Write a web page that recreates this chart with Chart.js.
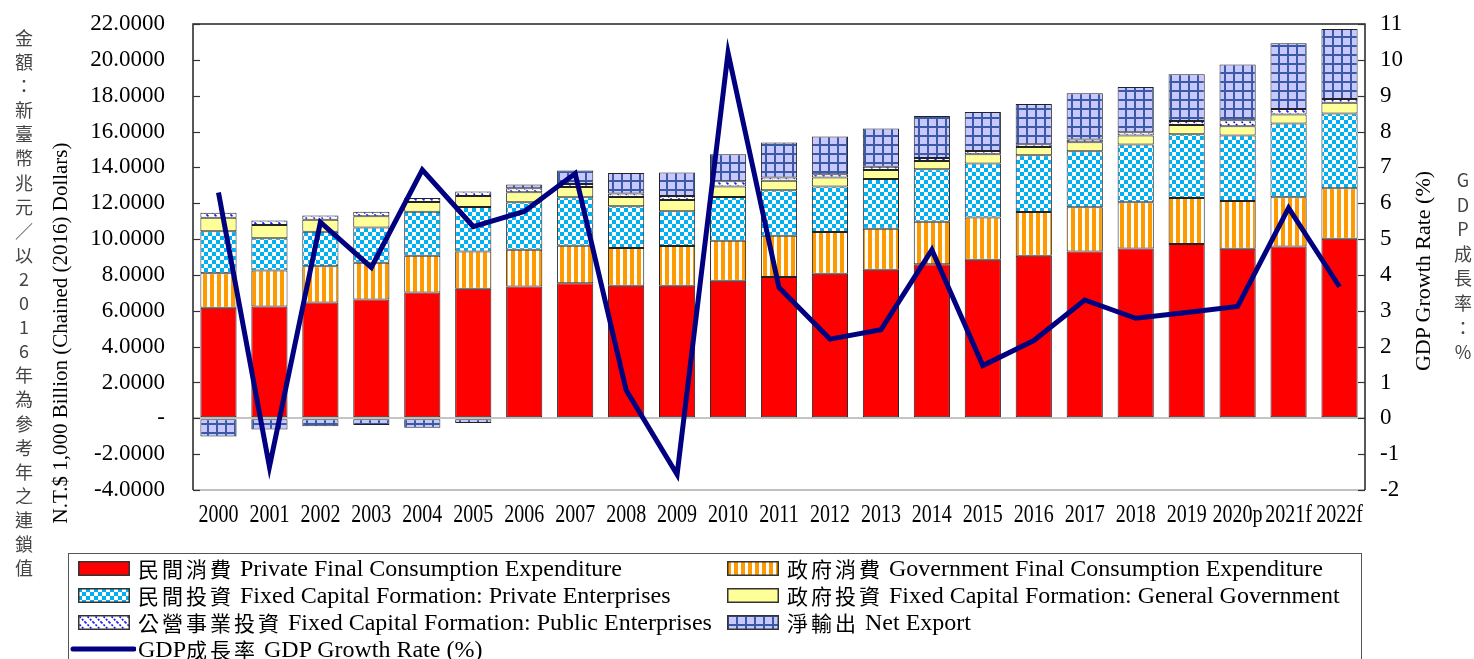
<!DOCTYPE html>
<html><head><meta charset="utf-8">
<script src="https://cdn.jsdelivr.net/npm/chart.js@4.4.1/dist/chart.umd.min.js"></script>
<style>
body{margin:0;background:#fff;}
#wrap{position:relative;width:1474px;height:659px;overflow:hidden;background:#fff;}
canvas#c{position:absolute;left:0;top:0;}
.vt{position:absolute;font-family:'Noto Sans CJK TC','Liberation Serif',serif;color:#444;font-size:18px;text-align:center;width:30px;}
.vt span{display:block;height:24.1px;line-height:24.1px;}
.rot{position:absolute;font-family:'Liberation Serif',serif;color:#000;white-space:nowrap;transform:translate(-50%,-50%) rotate(-90deg);}
#legend{position:absolute;left:68px;top:553px;width:1294px;height:120px;border:1px solid #555;box-sizing:border-box;font-family:'Liberation Serif','Noto Sans CJK TC',serif;font-size:24px;color:#000;}
.li{position:absolute;height:26px;line-height:26px;white-space:nowrap;display:flex;align-items:center;}
.li canvas{margin-right:8px;display:block;}
.cjk{letter-spacing:3px;font-size:21px;font-family:'Noto Sans CJK TC',serif;}
.en{font-size:24px;font-family:'Liberation Serif',serif;white-space:pre;}
</style></head>
<body>
<div id="wrap">
<canvas id="c" width="1474" height="659"></canvas>
<div class="vt" id="leftCJK" style="left:9px;top:25px;"></div>
<div class="vt" id="rightCJK" style="left:1448px;top:167px;"></div>
<div class="rot" id="leftTitle" style="left:60px;top:333px;font-size:21px;"></div>
<div class="rot" id="rightTitle" style="left:1423px;top:271px;font-size:22px;"></div>
<div id="legend"></div>
</div>
<script>
// ---- data ----
const years = ['2000','2001','2002','2003','2004','2005','2006','2007','2008','2009','2010','2011','2012','2013','2014','2015','2016','2017','2018','2019','2020p','2021f','2022f'];
const privateConsumption = [6.17,6.24,6.46,6.63,7.02,7.23,7.36,7.53,7.40,7.40,7.68,7.88,8.07,8.29,8.59,8.85,9.07,9.30,9.48,9.72,9.46,9.59,10.02];
const govConsumption = [1.93,2.01,2.03,2.05,2.05,2.07,2.05,2.10,2.10,2.21,2.23,2.31,2.32,2.29,2.38,2.35,2.44,2.47,2.57,2.57,2.66,2.74,2.81];
const privateInvestment = [2.33,1.79,1.92,1.97,2.46,2.49,2.64,2.70,2.33,1.94,2.44,2.53,2.54,2.77,2.92,3.01,3.17,3.13,3.22,3.56,3.66,4.12,4.18];
const govInvestment = [0.76,0.74,0.67,0.62,0.54,0.61,0.56,0.58,0.52,0.63,0.59,0.54,0.50,0.50,0.47,0.52,0.46,0.50,0.51,0.52,0.52,0.50,0.59];
const publicInvestment = [0.28,0.26,0.24,0.26,0.22,0.25,0.22,0.16,0.19,0.22,0.28,0.17,0.18,0.19,0.17,0.19,0.15,0.15,0.18,0.22,0.33,0.31,0.22];
const netExport = [-1.02,-0.63,-0.45,-0.37,-0.52,-0.26,0.21,0.75,1.15,1.31,1.51,1.96,2.11,2.13,2.34,2.17,2.24,2.59,2.53,2.61,3.11,3.67,3.90];
const gdpGrowth = [6.30,-1.35,5.47,4.21,6.93,5.35,5.77,6.83,0.79,-1.57,10.2,3.65,2.21,2.47,4.70,1.47,2.17,3.30,2.79,2.95,3.12,5.87,3.67];

const seriesLabels = [
 ['民間消費','Private Final Consumption Expenditure'],
 ['政府消費','Government Final Consumption Expenditure'],
 ['民間投資','Fixed Capital Formation: Private Enterprises'],
 ['政府投資','Fixed Capital Formation: General Government'],
 ['公營事業投資','Fixed Capital Formation: Public Enterprises'],
 ['淨輸出','Net Export'],
 ['GDP成長率','GDP Growth Rate (%)']
];
const leftAxisTitle = 'N.T.$ 1,000 Billion (Chained (2016) Dollars)';
const rightAxisTitle = 'GDP Growth Rate (%)';
const leftAxisCJK = '金額：新臺幣兆元／以2016年為參考年之連鎖值';
const rightAxisCJK = 'GDP成長率：%';

// ---- patterns ----
function tile(w,h,draw){const c=document.createElement('canvas');c.width=w;c.height=h;draw(c.getContext('2d'),w,h);return c;}
const tiles = {
 orange: tile(7,7,(g,w,h)=>{g.fillStyle='#fff';g.fillRect(0,0,w,h);g.fillStyle='#FF9900';g.fillRect(0,0,4,h);}),
 cyan: tile(8,8,(g)=>{g.fillStyle='#fff';g.fillRect(0,0,8,8);g.fillStyle='#00B0F0';g.fillRect(0,0,4,4);g.fillRect(4,4,4,4);}),
 hatch: tile(8,8,(g)=>{g.fillStyle='#fff';g.fillRect(0,0,8,8);g.strokeStyle='#1010FF';g.lineWidth=1.6;g.setLineDash([2,1.5]);g.beginPath();g.moveTo(-1,-1);g.lineTo(9,9);g.stroke();g.beginPath();g.moveTo(-1,7);g.lineTo(1,9);g.stroke();g.beginPath();g.moveTo(7,-1);g.lineTo(9,1);g.stroke();}),
 grid: tile(9,9,(g)=>{g.fillStyle='#C8C8FF';g.fillRect(0,0,9,9);g.fillStyle='#3A5AA6';g.fillRect(0,0,9,2);g.fillRect(0,0,2,9);})
};
const solids = {red:'#FF0000', yellow:'#FFFF99'};
function fillFor(ctx,k){ return solids[k] || ctx.createPattern(tiles[k],'repeat'); }
const baseCtx = document.createElement('canvas').getContext('2d');
const fillKeys = ['red','orange','cyan','yellow','hatch','grid'];
const barSeries = [privateConsumption,govConsumption,privateInvestment,govInvestment,publicInvestment,netExport];

const datasets = barSeries.map((d,i)=>({
 type:'bar', label: seriesLabels[i].join(' '), data:d, yAxisID:'y', stack:'s',
 backgroundColor: fillFor(baseCtx,fillKeys[i]), borderColor:'#222', borderWidth:1, borderSkipped:false,
 barPercentage:0.71, categoryPercentage:1, order:1
}));
datasets.push({type:'line', label: seriesLabels[6].join(' '), data:gdpGrowth, yAxisID:'y1',
 borderColor:'#000080', backgroundColor:'#000080', borderWidth:5, pointRadius:0, tension:0, order:0, borderJoinStyle:'miter'});

const decor = {
 id:'decor',
 afterDatasetsDraw(chart){
  const {ctx, chartArea:a, scales} = chart;
  ctx.save();
  ctx.strokeStyle='#c0c0c0'; ctx.lineWidth=2;
  ctx.beginPath(); ctx.moveTo(a.left,a.bottom); ctx.lineTo(a.right,a.bottom); ctx.stroke();
  ctx.strokeStyle='#222'; ctx.lineWidth=1.5;
  ctx.beginPath(); ctx.moveTo(a.left,a.bottom); ctx.lineTo(a.left,a.top); ctx.lineTo(a.right,a.top); ctx.lineTo(a.right,a.bottom); ctx.stroke();
  ctx.lineWidth=1.2; ctx.strokeStyle='#333';
  scales.y.ticks.forEach(t=>{const y=Math.round(scales.y.getPixelForValue(t.value))+0.5; ctx.beginPath(); ctx.moveTo(a.left,y); ctx.lineTo(a.left+7,y); ctx.stroke();});
  scales.y1.ticks.forEach(t=>{const y=Math.round(scales.y1.getPixelForValue(t.value))+0.5; ctx.beginPath(); ctx.moveTo(a.right-7,y); ctx.lineTo(a.right,y); ctx.stroke();});
  ctx.fillStyle='#000'; ctx.font='25px "Liberation Serif"'; ctx.textAlign='center'; ctx.textBaseline='middle';
  years.forEach((lab,i)=>{const x=scales.x.getPixelForTick(i); ctx.save(); ctx.translate(x,515); ctx.scale(0.8,1); ctx.fillText(lab,0,0); ctx.restore();});
  ctx.restore();
 }
};
function noPad(s){s.paddingTop=0;s.paddingBottom=0;}

new Chart(document.getElementById('c'),{
 data:{labels:years,datasets},
 plugins:[decor],
 options:{
  responsive:false, animation:false, devicePixelRatio:1,
  layout:{padding:{left:0,right:0,top:24,bottom:129}},
  plugins:{legend:{display:false},tooltip:{enabled:false}},
  scales:{
   x:{stacked:true, grid:{display:false}, border:{display:false}, ticks:{display:false},
      afterFit(s){s.height=40;s.paddingLeft=0;s.paddingRight=0;}},
   y:{stacked:true, position:'left', min:-4, max:22,
      ticks:{stepSize:2, padding:28, color:'#000', font:{family:'Liberation Serif',size:23},
        callback:v=> v===0 ? '-' : v.toFixed(4)},
      grid:{drawTicks:false, lineWidth:2, color:c=> (c.tick && c.tick.value===0) ? '#c4c4c4' : 'rgba(0,0,0,0)'},
      border:{display:false},
      afterFit(s){s.width=193;noPad(s);}},
   y1:{position:'right', min:-2, max:11,
      ticks:{stepSize:1, padding:15, color:'#000', font:{family:'Liberation Serif',size:23}},
      grid:{display:false, drawTicks:false}, border:{display:false},
      afterFit(s){s.width=109;noPad(s);}}
  }
 }
});

// ---- text around ----
function stack(el,str,h){[...str].forEach(ch=>{const s=document.createElement('span');s.textContent=ch;if(h){s.style.height=h+'px';s.style.lineHeight=h+'px';}el.appendChild(s);});}
stack(document.getElementById('leftCJK'),leftAxisCJK);
stack(document.getElementById('rightCJK'),rightAxisCJK,24.6);
document.getElementById('leftTitle').textContent=leftAxisTitle;
document.getElementById('rightTitle').textContent=rightAxisTitle;

// ---- legend ----
const legend=document.getElementById('legend');
const pos=[[9,1],[658,1],[9,28],[658,28],[9,55],[658,55],[1,82]];
seriesLabels.forEach((lab,i)=>{
 const it=document.createElement('div'); it.className='li';
 it.style.left=pos[i][0]+'px'; it.style.top=pos[i][1]+'px';
 const sw=document.createElement('canvas');
 const g=sw.getContext('2d');
 if(i<6){
  sw.width=52; sw.height=15;
  g.fillStyle=fillFor(g,fillKeys[i]);
  g.fillRect(0,0,52,15); g.strokeStyle='#333'; g.lineWidth=1.5; g.strokeRect(0.75,0.75,50.5,13.5);
 } else {
  sw.width=66; sw.height=6; sw.style.marginRight='2px';
  g.strokeStyle='#000080'; g.lineWidth=5; g.lineCap='round'; g.beginPath(); g.moveTo(3,3); g.lineTo(64,3); g.stroke();
 }
 it.appendChild(sw);
 const m=lab[0].match(/^([A-Za-z]*)(.*)$/);
 if(m[1]){const p=document.createElement('span');p.className='en';p.textContent=m[1];it.appendChild(p);}
 const c=document.createElement('span'); c.className='cjk'; c.textContent=m[2]; it.appendChild(c);
 const e=document.createElement('span'); e.className='en'; e.textContent=' '+lab[1]; it.appendChild(e);
 legend.appendChild(it);
});
</script>
</body></html>
